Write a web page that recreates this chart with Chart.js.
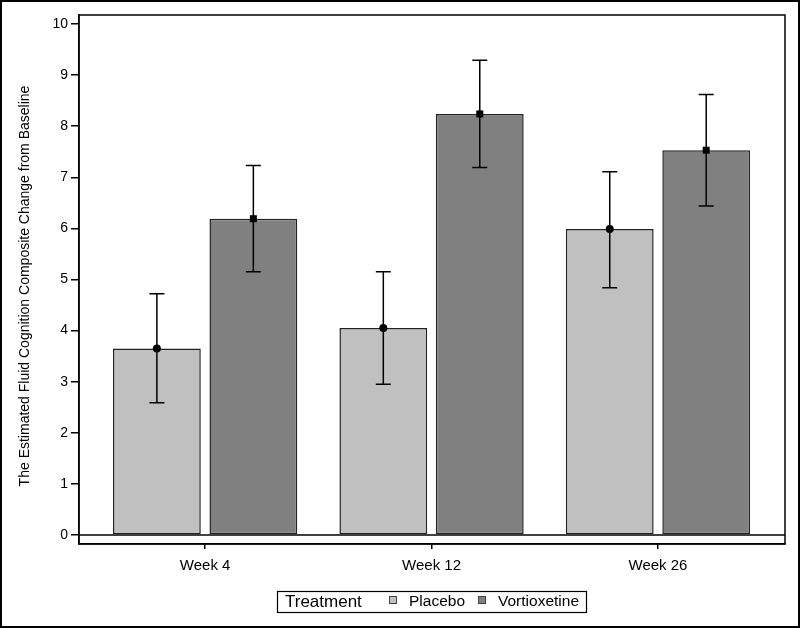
<!DOCTYPE html>
<html>
<head>
<meta charset="utf-8">
<script src="https://cdn.jsdelivr.net/npm/chart.js@4/dist/chart.umd.min.js"></script>
<style>
  html, body { margin: 0; padding: 0; background: #fff; }
  #wrap { width: 800px; height: 628px; }
</style>
</head>
<body>
<div id="wrap"><canvas id="chart" width="800" height="628"></canvas></div>
<script>
const weeks = ["Week 4", "Week 12", "Week 26"];
const placeboMean = [3.65, 4.05, 5.99];
const placeboLower = [2.59, 2.95, 4.84];
const placeboUpper = [4.72, 5.15, 7.11];
const vortMean = [6.19, 8.24, 7.53];
const vortLower = [5.15, 7.19, 6.44];
const vortUpper = [7.23, 9.29, 8.62];
const yTicks = [0, 1, 2, 3, 4, 5, 6, 7, 8, 9, 10];
const yTitle = "The Estimated Fluid Cognition Composite Change from Baseline";

const FONT = "'Liberation Sans', Arial, sans-serif";
const INK = "#000";

const errBars = [
  { lower: placeboLower, upper: placeboUpper, marker: "circle" },
  { lower: vortLower, upper: vortUpper, marker: "square" },
];

// frame, zero line, error bars, y title and the boxed legend
const extras = {
  id: "extras",
  beforeDatasetsDraw(chart) {
    const { ctx, chartArea: a, scales } = chart;
    const y0 = scales.y.getPixelForValue(0);
    ctx.save();
    ctx.strokeStyle = INK;
    ctx.lineWidth = 1.5;
    ctx.beginPath();
    ctx.moveTo(a.left, y0);
    ctx.lineTo(a.right, y0);
    ctx.stroke();
    ctx.restore();
  },
  afterDatasetsDraw(chart) {
    const { ctx, scales } = chart;
    ctx.save();
    ctx.strokeStyle = INK;
    ctx.fillStyle = INK;
    ctx.lineWidth = 1.5;
    errBars.forEach((eb, d) => {
      const meta = chart.getDatasetMeta(d);
      meta.data.forEach((bar, i) => {
        const x = bar.x;
        const yl = scales.y.getPixelForValue(eb.lower[i]);
        const yu = scales.y.getPixelForValue(eb.upper[i]);
        ctx.beginPath();
        ctx.moveTo(x, yl); ctx.lineTo(x, yu);
        ctx.moveTo(x - 7.5, yl); ctx.lineTo(x + 7.5, yl);
        ctx.moveTo(x - 7.5, yu); ctx.lineTo(x + 7.5, yu);
        ctx.stroke();
        if (eb.marker === "circle") {
          ctx.beginPath();
          ctx.arc(x, bar.y, 4, 0, Math.PI * 2);
          ctx.fill();
        } else {
          ctx.fillRect(x - 3.5, bar.y - 3.5, 7, 7);
        }
      });
    });
    ctx.restore();
  },
  afterDraw(chart) {
    const { ctx, chartArea: a } = chart;
    ctx.save();
    ctx.strokeStyle = INK;
    ctx.lineWidth = 1.5;
    ctx.strokeRect(a.left, a.top, a.right - a.left, a.bottom - a.top);

    // outer border
    ctx.lineWidth = 2;
    ctx.strokeRect(1, 1, chart.width - 2, chart.height - 2);

    // y title, sits a little below the axis middle
    ctx.save();
    ctx.translate(25.5, 286);
    ctx.rotate(-Math.PI / 2);
    ctx.fillStyle = INK;
    ctx.font = "14px " + FONT;
    ctx.textAlign = "center";
    ctx.textBaseline = "middle";
    ctx.fillText(yTitle, 0, 0);
    ctx.restore();

    // legend
    ctx.lineWidth = 1.2;
    ctx.strokeRect(277.5, 591.5, 309, 21);
    ctx.fillStyle = INK;
    ctx.textBaseline = "middle";
    ctx.font = "17px " + FONT;
    ctx.fillText("Treatment", 285, 602);
    ctx.font = "15.5px " + FONT;
    const sw = [389, 478];
    chart.data.datasets.forEach((ds, d) => {
      ctx.fillStyle = ds.backgroundColor;
      ctx.fillRect(sw[d], 596, 8, 8);
      ctx.strokeStyle = "#444";
      ctx.lineWidth = 1;
      ctx.strokeRect(sw[d] + 0.5, 596.5, 7, 7);
      ctx.fillStyle = INK;
      ctx.fillText(ds.label, sw[d] + 20, 602);
    });
    ctx.restore();
  },
};

new Chart(document.getElementById("chart"), {
  type: "bar",
  data: {
    datasets: [
      {
        label: "Placebo",
        data: placeboMean.map((v, i) => ({ x: i, y: v })),
        backgroundColor: "#c0c0c0",
      },
      {
        label: "Vortioxetine",
        data: vortMean.map((v, i) => ({ x: i, y: v })),
        backgroundColor: "#808080",
      },
    ],
  },
  options: {
    responsive: false,
    animation: false,
    layout: { padding: { top: 15, right: 15, left: 0, bottom: 0 } },
    datasets: {
      bar: {
        categoryPercentage: 0.852,
        barPercentage: 0.91,
        borderColor: "#222",
        borderWidth: 1.5,
        borderSkipped: false,
      },
    },
    plugins: {
      legend: { display: false },
      tooltip: { enabled: false },
    },
    scales: {
      x: {
        type: "linear",
        min: -0.557,
        max: 2.561,
        offset: false,
        afterBuildTicks: (s) => { s.ticks = weeks.map((_, i) => ({ value: i })); },
        afterFit: (s) => { s.height = 84; },
        grid: { display: true, offset: false, drawOnChartArea: false, drawTicks: true, tickLength: 5, color: INK, lineWidth: 1.5 },
        border: { display: true, color: INK, width: 1.5 },
        ticks: {
          callback: (v) => weeks[v] ?? "",
          color: INK,
          font: { family: FONT, size: 15 },
          padding: 8,
          maxRotation: 0,
        },
      },
      y: {
        min: -0.176,
        max: 10.176,
        afterBuildTicks: (s) => { s.ticks = yTicks.map((v) => ({ value: v })); },
        afterFit: (s) => { s.width = 79; },
        grid: { display: true, drawOnChartArea: false, drawTicks: true, tickLength: 8, color: INK, lineWidth: 1.5 },
        border: { display: true, color: INK, width: 1.5 },
        ticks: {
          color: INK,
          font: { family: FONT, size: 14 },
          padding: 3,
        },
      },
    },
  },
  plugins: [extras],
});
</script>
</body>
</html>
